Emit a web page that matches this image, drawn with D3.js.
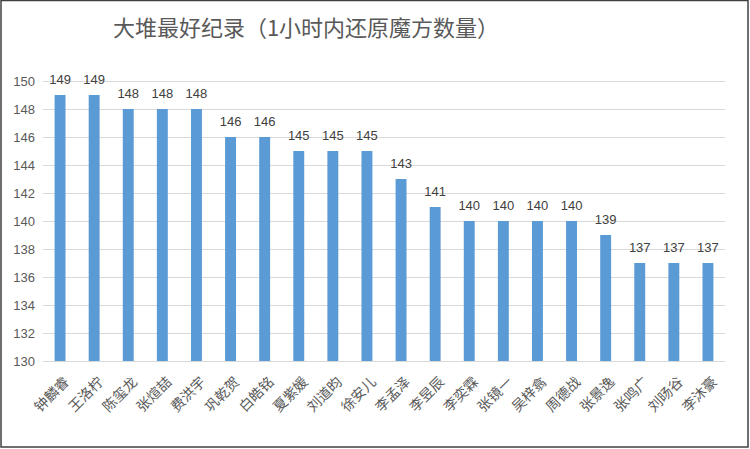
<!DOCTYPE html>
<head>
<script src="https://d3js.org/d3.v7.min.js"></script>
<style type="text/css">
	body { margin: 0; background: #fff; }
	svg { display: block; }
</style>
</head>
<body>
<div id="chart"></div>
</body>
<script>
	// data
	var names = ["钟麟睿", "王洛柠", "陈玺龙", "张煊喆", "费洪宇", "巩乾贺", "白皓铭", "夏紫媛", "刘道昀", "徐安儿",
		"李孟泽", "李昱辰", "李奕霖", "张镜一", "吴梓翕", "周德战", "张景逸", "张鸣广", "刘旸谷", "李沐豪"];
	var counts = [149, 149, 148, 148, 148, 146, 146, 145, 145, 145,
		143, 141, 140, 140, 140, 140, 139, 137, 137, 137];
	var yTicks = [130, 132, 134, 136, 138, 140, 142, 144, 146, 148, 150];
	var title = "大堆最好纪录（1小时内还原魔方数量）";

	var width = 750, height = 449;
	var plotLeft = 43, plotRight = 725, plotTop = 81, plotBottom = 361;

	var svg = d3.select("#chart").append("svg")
		.attr("width", width)
		.attr("height", height);

	svg.append("rect")
		.attr("x", 1).attr("y", 0.5)
		.attr("width", 747).attr("height", 446.5)
		.attr("fill", "#fff")
		.attr("stroke", "#404040")
		.attr("stroke-width", 1.5);

	var x = d3.scaleBand()
		.domain(names)
		.range([plotLeft, plotRight])
		.paddingInner(0.68)
		.paddingOuter(0.34);

	var y = d3.scaleLinear()
		.domain([130, 150])
		.range([plotBottom, plotTop]);

	// gridlines + y labels
	var yAxis = svg.append("g")
		.attr("transform", "translate(" + plotLeft + ",0)")
		.call(d3.axisLeft(y).tickValues(yTicks).tickSize(-(plotRight - plotLeft)).tickPadding(8));
	yAxis.select(".domain").remove();
	yAxis.selectAll(".tick line").attr("stroke", "#d9d9d9").attr("stroke-width", 1);
	yAxis.selectAll(".tick text")
		.attr("fill", "#595959")
		.style("font-family", "'Liberation Sans', Arial, sans-serif")
		.style("font-size", "13px");

	// bars
	svg.selectAll("rect.bar")
		.data(counts)
		.enter()
		.append("rect")
		.attr("class", "bar")
		.attr("x", (d, i) => x(names[i]))
		.attr("width", x.bandwidth())
		.attr("y", d => y(d))
		.attr("height", d => plotBottom - y(d))
		.attr("fill", "#5b9bd5");

	// value labels
	svg.selectAll("text.val")
		.data(counts)
		.enter()
		.append("text")
		.attr("class", "val")
		.attr("x", (d, i) => x(names[i]) + x.bandwidth() / 2)
		.attr("y", d => y(d) - 11)
		.attr("text-anchor", "middle")
		.attr("fill", "#404040")
		.style("font-family", "'Liberation Sans', Arial, sans-serif")
		.style("font-size", "13px")
		.text(d => d);

	// category labels, slanted
	svg.selectAll("text.cat")
		.data(names)
		.enter()
		.append("text")
		.attr("class", "cat")
		.attr("text-anchor", "end")
		.attr("transform", d => "translate(" + (x(d) + x.bandwidth() / 2 + 3) + ",376) rotate(-45)")
		.attr("dy", "0.7em")
		.attr("fill", "#595959")
		.style("font-family", "'Noto Sans CJK SC', sans-serif")
		.style("font-size", "14px")
		.text(d => d);

	svg.append("text")
		.attr("x", 306)
		.attr("y", 36)
		.attr("text-anchor", "middle")
		.attr("fill", "#595959")
		.style("font-family", "'Noto Sans CJK SC', sans-serif")
		.style("font-size", "22px")
		.text(title);
</script>
